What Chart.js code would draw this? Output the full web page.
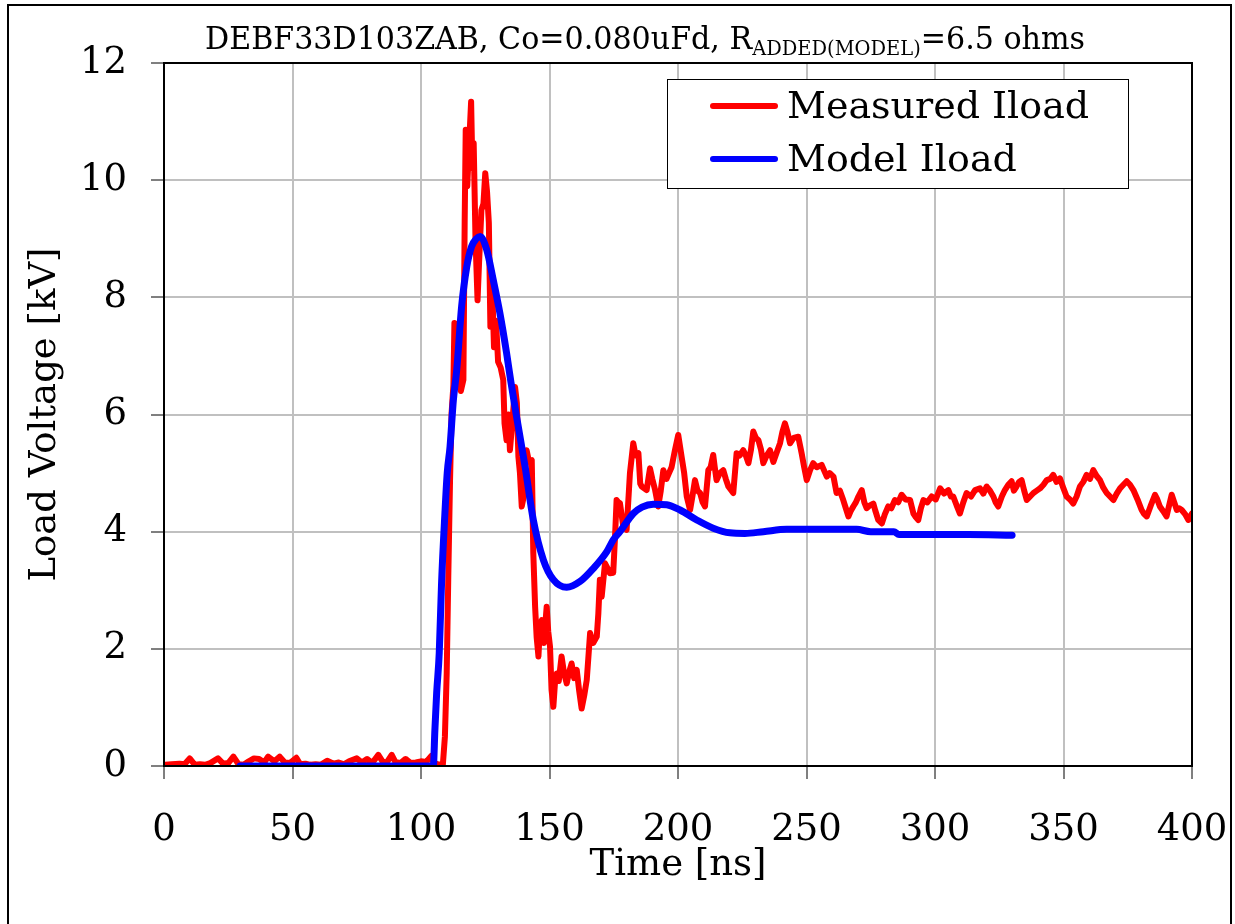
<!DOCTYPE html>
<html>
<head>
<meta charset="utf-8">
<script src="https://cdn.jsdelivr.net/npm/chart.js@4.4.0/dist/chart.umd.min.js"></script>
<style>
  html, body { margin: 0; padding: 0; background: #fff; }
</style>
</head>
<body>
<canvas id="loadChart" width="1235" height="924"></canvas>
<script>
// title pieces (R has a subscript)
const titleMain = 'DEBF33D103ZAB, Co=0.080uFd, R';
const titleSub = 'ADDED(MODEL)';
const titleEnd = '=6.5 ohms';

const xTicks = [0, 50, 100, 150, 200, 250, 300, 350, 400];
const yTicks = [0, 2, 4, 6, 8, 10, 12];

// Measured Iload, time [ns]
const measuredT = [
  0.5, 3, 6, 8, 10, 12, 14, 16, 18, 21, 23, 25, 27, 29, 31, 33, 35, 37, 39, 40.5,
  43, 45, 47, 49, 51.5, 53, 55, 57, 59, 61, 63.5, 66, 68, 70, 72, 75, 77, 79, 81, 83.4,
  85, 86.5, 88.6, 90, 92, 94, 96, 98, 100, 102, 104, 105, 106.5, 108.5, 109.3, 110, 110.6, 111.3, 111.9, 112.6,
  113, 113.6, 114, 114.5, 115.5, 116.5, 117, 117.4, 118, 118.6, 119.5, 120, 120.5, 121.2, 122, 122.6, 123.5, 124.3, 125, 125.7,
  126.4, 127, 127.7, 128.4, 129.2, 130, 131, 132, 132.5, 133.3, 134, 134.6, 135.6, 136.6, 137.3, 137.9, 138.5, 139.2, 140, 141.1,
  142, 143.1, 143.7, 144.4, 145, 145.7, 146.3, 147, 147.8, 148.9, 149.5, 150.2, 150.8, 151.5, 152.1, 152.8, 153.6, 154.7, 155.6, 156.7,
  157.6, 158.6, 159.6, 160.6, 161.5, 162.5, 163.5, 164.5, 165.2, 165.8, 167, 168.4, 169, 169.6, 170.3, 171.6, 172.3, 173.5, 174.8, 175.5,
  176.1, 176.8, 177.4, 178.7, 180, 181.3, 182.6, 183.5, 184.6, 185.3, 185.9, 187.8, 189.1, 190, 191.1, 192.3, 193.3, 194.3, 195.5, 196.5,
  197.5, 198.8, 200.1, 201.4, 202.4, 203.4, 204.7, 205.6, 206.6, 207.6, 208.6, 209.6, 210.5, 211.8, 212.7, 213.7, 214.3, 215, 216.3, 217.6,
  218.6, 219.6, 221.5, 222.8, 224, 225.4, 226.4, 227.4, 228.4, 229.3, 230.3, 231.3, 232.3, 233.2, 234.5, 235.8, 237.1, 238.4, 239.7, 240.6,
  241.6, 242.6, 243.6, 245, 246.8, 248.1, 249.1, 250.1, 251.4, 252.6, 254, 255.9, 257.9, 259, 260.5, 261.7, 263, 264.3, 265.3, 266.3,
  267.2, 268.2, 269.2, 270.2, 271.5, 272.5, 273.4, 274.7, 276, 276.7, 277.9, 279.3, 280.5, 281.8, 283, 284.4, 285.7, 287, 288.5, 290.3,
  291.6, 292.5, 293.5, 294.5, 295.5, 297, 298.7, 300.3, 302, 303.5, 305.2, 306.2, 307.1, 308.4, 309.7, 311, 312.3, 314, 315.6, 317.5,
  318.8, 320.1, 321.4, 322.7, 323.6, 324.6, 326, 327.2, 328.5, 329.8, 330.7, 331.7, 332.7, 333.7, 334.7, 335.7, 337, 338.3, 339.6, 340.9,
  342.2, 343.5, 344.8, 346, 347.3, 348.6, 349.9, 351.2, 352.5, 353.8, 355.1, 356.4, 357.7, 359, 360.3, 361.6, 362.9, 364.2, 365.5, 366.8,
  368.1, 369.4, 370.7, 372, 373.3, 374.6, 375.9, 377.2, 378.8, 380.4, 381.4, 382.4, 384, 385.6, 386.5, 387.5, 388.8, 390.1, 391.1, 392.1,
  393.1, 394.1, 395, 396, 397.3, 398.6, 400
];
// Measured Iload, load voltage [kV]
const measuredV = [
  0.02, 0.03, 0.04, 0.03, 0.13, 0.02, 0.03, 0.02, 0.05, 0.13, 0.04, 0.05, 0.16, 0.03, 0.02, 0.08, 0.13, 0.12, 0.06, 0.16,
  0.08, 0.16, 0.06, 0.05, 0.14, 0.03, 0.04, 0.02, 0.03, 0.02, 0.09, 0.04, 0.06, 0.03, 0.08, 0.13, 0.06, 0.12, 0.05, 0.19,
  0.08, 0.05, 0.19, 0.07, 0.05, 0.12, 0.05, 0.06, 0.08, 0.07, 0.17, 0.05, 0.03, 0.02, 0.5, 1.58, 3.18, 4.88, 6.02, 6.5,
  7.56, 7.15, 7.5, 6.6, 6.4, 6.59, 9.32, 10.86, 9.9, 10.5, 11.34, 10.2, 10.63, 9.0, 7.95, 8.6, 9.49, 9.6, 10.12, 9.8,
  9.27, 7.5, 8.2, 7.15, 7.6, 6.9, 6.8, 6.59, 5.85, 5.56, 6.0, 5.39, 5.9, 6.47, 6.2, 5.28, 5.0, 4.43, 4.6, 5.39,
  5.2, 5.22, 3.63, 2.72, 2.2, 1.87, 2.4, 2.49, 2.1, 2.72, 2.3, 2.04, 1.3, 1.01, 1.4, 1.58, 1.45, 1.87, 1.6, 1.41,
  1.6, 1.75, 1.5, 1.64, 1.3, 0.98, 1.2, 1.47, 1.9, 2.27, 2.1, 2.21, 2.6, 3.18, 2.89, 3.46, 3.4, 3.29, 3.3, 3.91,
  4.54, 4.5, 4.49, 4.09, 4.03, 5.0, 5.51, 5.3, 5.34, 4.82, 4.77, 4.71, 5.08, 4.9, 4.71, 4.43, 4.7, 5.05, 4.9, 5.0,
  5.1, 5.39, 5.65, 5.28, 5.0, 4.6, 4.37, 4.6, 4.88, 4.7, 4.66, 4.5, 4.43, 5.05, 5.1, 5.31, 5.1, 4.88, 5.0, 5.05,
  4.9, 4.77, 4.66, 5.34, 5.3, 5.39, 5.3, 5.17, 5.4, 5.71, 5.6, 5.56, 5.4, 5.17, 5.3, 5.39, 5.19, 5.35, 5.51, 5.7,
  5.85, 5.7, 5.51, 5.6, 5.62, 5.34, 5.1, 4.88, 5.05, 5.17, 5.1, 5.14, 4.94, 5.0, 4.94, 4.66, 4.7, 4.54, 4.4, 4.26,
  4.35, 4.43, 4.5, 4.6, 4.71, 4.5, 4.4, 4.45, 4.48, 4.37, 4.2, 4.14, 4.3, 4.43, 4.4, 4.54, 4.5, 4.63, 4.55, 4.54,
  4.31, 4.25, 4.2, 4.4, 4.54, 4.5, 4.6, 4.55, 4.74, 4.65, 4.71, 4.6, 4.6, 4.45, 4.31, 4.5, 4.66, 4.6, 4.71, 4.74,
  4.65, 4.77, 4.7, 4.6, 4.5, 4.43, 4.6, 4.71, 4.8, 4.86, 4.7, 4.77, 4.85, 4.88, 4.7, 4.54, 4.6, 4.66, 4.7, 4.74,
  4.8, 4.88, 4.9, 4.97, 4.85, 4.91, 4.75, 4.6, 4.55, 4.48, 4.6, 4.77, 4.85, 4.97, 4.9, 5.05, 4.95, 4.88, 4.75, 4.66,
  4.6, 4.54, 4.65, 4.74, 4.8, 4.86, 4.8, 4.71, 4.55, 4.37, 4.3, 4.26, 4.45, 4.63, 4.55, 4.43, 4.35, 4.26, 4.45, 4.63,
  4.5, 4.37, 4.4, 4.37, 4.3, 4.2, 4.31
];

// Model Iload
const modelT = [
  29.6, 50, 80, 104.8, 105.4, 106.1, 107.1, 108, 109.3, 110.2, 111.3, 112.6, 113.9, 115.8, 117.8, 119.7, 121.5, 123, 125.6, 128.1,
  130.7, 133.3, 135, 137.2, 140.5, 143.7, 147.6, 151.5, 156.7, 161.9, 167, 172.3, 174.8, 177.4, 182.6, 186, 190.4, 195.6, 200.8, 207.3,
  213.7, 220.2, 226, 233.2, 242.3, 255, 269.5, 275, 284, 286, 313, 330
];
const modelV = [
  0, 0, 0, 0, 0.61, 1.25, 1.93, 3.12, 4.31, 5.0, 5.45, 6.25, 6.76, 7.84, 8.52, 8.87, 9.0, 9.04, 8.81, 8.3,
  7.73, 7.05, 6.55, 5.96, 5.11, 4.2, 3.52, 3.18, 3.05, 3.15, 3.37, 3.66, 3.86, 4.0, 4.31, 4.42, 4.47, 4.46, 4.37, 4.2,
  4.06, 3.98, 3.97, 4.0, 4.04, 4.04, 4.04, 4.0, 4.0, 3.95, 3.95, 3.94
];

const serif = "'DejaVu Serif', 'Liberation Serif', serif";

function toPoints(xs, ys) {
  return xs.map((x, i) => ({ x: x, y: ys[i] }));
}

// white page + outer frame + plot frame + title + boxed legend
const decorations = {
  id: 'decorations',
  beforeDraw(chart) {
    const ctx = chart.ctx;
    ctx.save();
    ctx.fillStyle = '#fff';
    ctx.fillRect(0, 0, chart.width, chart.height);
    ctx.restore();
  },
  afterDraw(chart) {
    const ctx = chart.ctx;
    const a = chart.chartArea;
    ctx.save();

    // plot area frame
    ctx.strokeStyle = '#000';
    ctx.lineWidth = 2;
    ctx.strokeRect(a.left, a.top, a.right - a.left, a.bottom - a.top);

    // outer frame (bottom edge is off the picture)
    ctx.strokeRect(8, 5, chart.width - 12, chart.height + 20);

    // title with subscript
    const big = '31px ' + serif;
    const small = '20px ' + serif;
    ctx.font = big;
    const w1 = ctx.measureText(titleMain).width;
    const w3 = ctx.measureText(titleEnd).width;
    ctx.font = small;
    const w2 = ctx.measureText(titleSub).width;
    const total = w1 + w2 + w3;
    const targetW = 880;
    const sx = targetW / total;
    ctx.translate(645 - targetW / 2, 49);
    ctx.scale(sx, 1);
    ctx.fillStyle = '#000';
    ctx.textBaseline = 'alphabetic';
    ctx.textAlign = 'left';
    ctx.font = big;
    ctx.fillText(titleMain, 0, 0);
    ctx.font = small;
    ctx.fillText(titleSub, w1, 6);
    ctx.font = big;
    ctx.fillText(titleEnd, w1 + w2, 0);
    ctx.restore();

    // legend box
    ctx.save();
    const box = { x: 667, y: 79, w: 461, h: 109 };
    ctx.fillStyle = '#fff';
    ctx.fillRect(box.x, box.y, box.w, box.h);
    ctx.strokeStyle = '#000';
    ctx.lineWidth = 1;
    ctx.strokeRect(box.x + 0.5, box.y + 0.5, box.w, box.h);
    ctx.font = '38px ' + serif;
    ctx.textBaseline = 'middle';
    ctx.textAlign = 'left';
    chart.data.datasets.forEach((ds, i) => {
      const y = 106 + i * 53;
      ctx.strokeStyle = ds.borderColor;
      ctx.lineWidth = 6;
      ctx.lineCap = 'round';
      ctx.beginPath();
      ctx.moveTo(713, y);
      ctx.lineTo(775, y);
      ctx.stroke();
      ctx.fillStyle = '#000';
      ctx.fillText(ds.label, 787, y + 2);
    });
    ctx.restore();
  }
};

const ctx = document.getElementById('loadChart').getContext('2d');
const chart = new Chart(ctx, {
  type: 'line',
  data: {
    datasets: [
      {
        label: 'Measured Iload',
        data: toPoints(measuredT, measuredV),
        borderColor: '#ff0000',
        borderWidth: 6,
        borderJoinStyle: 'round',
        borderCapStyle: 'round',
        pointRadius: 0,
        tension: 0,
        fill: false,
        order: 1
      },
      {
        label: 'Model Iload',
        data: toPoints(modelT, modelV),
        borderColor: '#0000ff',
        borderWidth: 7,
        borderJoinStyle: 'round',
        borderCapStyle: 'round',
        pointRadius: 0,
        cubicInterpolationMode: 'monotone',
        fill: false,
        order: 0
      }
    ]
  },
  options: {
    responsive: false,
    animation: false,
    devicePixelRatio: 1,
    layout: { padding: { left: 0, right: 43, top: 63, bottom: 0 } },
    plugins: {
      legend: { display: false },
      tooltip: { enabled: false }
    },
    scales: {
      x: {
        type: 'linear',
        min: 0,
        max: 400,
        afterBuildTicks: (scale) => { scale.ticks = xTicks.map(v => ({ value: v })); },
        afterFit: (scale) => {
          scale.height = 158;
          scale.paddingLeft = 0;
          scale.paddingRight = 0;
        },
        ticks: {
          color: '#000',
          font: { family: serif, size: 37 },
          padding: 29,
          maxRotation: 0
        },
        grid: {
          color: '#c0c0c0',
          lineWidth: 2,
          tickLength: 13,
          tickColor: '#000',
          tickWidth: 1
        },
        border: { color: '#000', width: 2 },
        title: {
          display: true,
          text: 'Time [ns]',
          color: '#000',
          font: { family: serif, size: 37 },
          padding: { top: 0, bottom: 36 }
        }
      },
      y: {
        min: 0,
        max: 12,
        afterBuildTicks: (scale) => { scale.ticks = yTicks.map(v => ({ value: v })); },
        afterFit: (scale) => {
          scale.width = 164;
          scale.paddingTop = 0;
          scale.paddingBottom = 0;
        },
        ticks: {
          color: '#000',
          font: { family: serif, size: 37 },
          padding: 24
        },
        grid: {
          color: '#c0c0c0',
          lineWidth: 2,
          tickLength: 13,
          tickColor: '#000',
          tickWidth: 1
        },
        border: { color: '#000', width: 2 },
        title: {
          display: true,
          text: 'Load Voltage [kV]',
          color: '#000',
          font: { family: serif, size: 37 },
          padding: { top: 23, bottom: 0 }
        }
      }
    }
  },
  plugins: [decorations]
});
</script>
</body>
</html>
